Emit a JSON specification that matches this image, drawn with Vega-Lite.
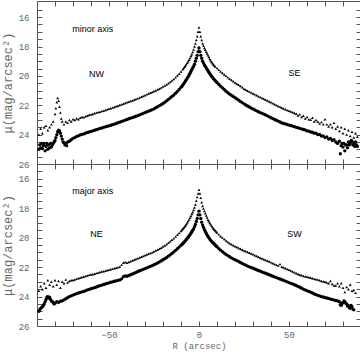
{
"$schema":"https://vega.github.io/schema/vega-lite/v6.json",
"padding":{"left":0,"top":0,"right":3,"bottom":0},
"spacing":0,
"bounds":"flush",
"datasets":{
"minU":[{"r":-89,"m":24.0},{"r":-88,"m":23.6},{"r":-87,"m":23.9},{"r":-86,"m":23.5},{"r":-85,"m":23.4},{"r":-84,"m":23.7},{"r":-83,"m":23.5},{"r":-82,"m":23.3},{"r":-81,"m":23.1},{"r":-80,"m":22.6},{"r":-79.5,"m":22.2},{"r":-79,"m":21.8},{"r":-78.5,"m":21.5},{"r":-78,"m":21.7},{"r":-77.5,"m":22.1},{"r":-77,"m":22.5},{"r":-76.5,"m":22.9},{"r":-76,"m":23.1},{"r":-75,"m":23.3},{"r":-74,"m":23.1},{"r":-73,"m":23.2},{"r":-72,"m":23.0},{"r":-71,"m":23.1},{"r":-70,"m":22.95},{"r":-69,"m":23.0},{"r":-68,"m":22.9},{"r":-67,"m":22.95},{"r":-66,"m":22.85},{"r":-65,"m":22.8},{"r":-64,"m":22.82},{"r":-63,"m":22.75},{"r":-62,"m":22.72},{"r":-61,"m":22.65},{"r":-60,"m":22.63},{"r":-59,"m":22.6},{"r":-58,"m":22.55},{"r":-57,"m":22.5},{"r":-56,"m":22.48},{"r":-55,"m":22.45},{"r":-54,"m":22.4},{"r":-53,"m":22.37},{"r":-52,"m":22.32},{"r":-51,"m":22.28},{"r":-50,"m":22.24},{"r":-49,"m":22.2},{"r":-48,"m":22.16},{"r":-47,"m":22.12},{"r":-46,"m":22.07},{"r":-45,"m":22.03},{"r":-44,"m":21.98},{"r":-43,"m":21.94},{"r":-42,"m":21.9},{"r":-41,"m":21.85},{"r":-40,"m":21.8},{"r":-39,"m":21.76},{"r":-38,"m":21.71},{"r":-37,"m":21.67},{"r":-36,"m":21.62},{"r":-35,"m":21.58},{"r":-34,"m":21.53},{"r":-33,"m":21.48},{"r":-32,"m":21.42},{"r":-31,"m":21.37},{"r":-30,"m":21.32},{"r":-29,"m":21.26},{"r":-28,"m":21.2},{"r":-27,"m":21.15},{"r":-26,"m":21.1},{"r":-25,"m":21.05},{"r":-24,"m":20.99},{"r":-23,"m":20.93},{"r":-22,"m":20.87},{"r":-21,"m":20.8},{"r":-20,"m":20.73},{"r":-19,"m":20.65},{"r":-18,"m":20.58},{"r":-17,"m":20.5},{"r":-16,"m":20.41},{"r":-15,"m":20.32},{"r":-14,"m":20.22},{"r":-13,"m":20.1},{"r":-12,"m":19.98},{"r":-11,"m":19.85},{"r":-10,"m":19.7},{"r":-9,"m":19.55},{"r":-8.5,"m":19.47},{"r":-8,"m":19.38},{"r":-7.5,"m":19.29},{"r":-7,"m":19.2},{"r":-6.5,"m":19.1},{"r":-6,"m":19.0},{"r":-5.5,"m":18.9},{"r":-5,"m":18.78},{"r":-4.5,"m":18.65},{"r":-4,"m":18.52},{"r":-3.5,"m":18.37},{"r":-3,"m":18.2},{"r":-2.5,"m":18.0},{"r":-2,"m":17.8},{"r":-1.5,"m":17.55},{"r":-1,"m":17.3},{"r":-0.5,"m":17.0},{"r":0,"m":16.7},
{"r":0.5,"m":17.0},{"r":1,"m":17.3},{"r":1.5,"m":17.55},{"r":2,"m":17.8},{"r":2.5,"m":17.95},{"r":3,"m":18.1},{"r":3.5,"m":18.22},{"r":4,"m":18.35},{"r":4.5,"m":18.47},{"r":5,"m":18.6},{"r":5.5,"m":18.72},{"r":6,"m":18.85},{"r":6.5,"m":18.95},{"r":7,"m":19.05},{"r":7.5,"m":19.14},{"r":8,"m":19.22},{"r":8.5,"m":19.29},{"r":9,"m":19.36},{"r":10,"m":19.47},{"r":11,"m":19.59},{"r":12,"m":19.7},{"r":13,"m":19.8},{"r":14,"m":19.9},{"r":15,"m":20.0},{"r":16,"m":20.1},{"r":17,"m":20.19},{"r":18,"m":20.28},{"r":19,"m":20.37},{"r":20,"m":20.45},{"r":21,"m":20.53},{"r":22,"m":20.6},{"r":23,"m":20.69},{"r":24,"m":20.78},{"r":25,"m":20.87},{"r":26,"m":20.95},{"r":27,"m":21.01},{"r":28,"m":21.07},{"r":29,"m":21.14},{"r":30,"m":21.2},{"r":31,"m":21.26},{"r":32,"m":21.32},{"r":33,"m":21.38},{"r":34,"m":21.44},{"r":35,"m":21.5},{"r":36,"m":21.55},{"r":37,"m":21.62},{"r":38,"m":21.68},{"r":39,"m":21.74},{"r":40,"m":21.8},{"r":41,"m":21.87},{"r":42,"m":21.93},{"r":43,"m":21.99},{"r":44,"m":22.05},{"r":45,"m":22.11},{"r":46,"m":22.17},{"r":47,"m":22.22},{"r":48,"m":22.27},{"r":49,"m":22.33},{"r":50,"m":22.38},{"r":51,"m":22.43},{"r":52,"m":22.48},{"r":53,"m":22.53},{"r":54,"m":22.58},{"r":55,"m":22.7},{"r":56,"m":22.62},{"r":57,"m":22.8},{"r":58,"m":22.72},{"r":59,"m":22.9},{"r":60,"m":22.8},{"r":61,"m":22.95},{"r":62,"m":22.98},{"r":63,"m":22.85},{"r":64,"m":23.1},{"r":65,"m":23.0},{"r":66,"m":23.12},{"r":67,"m":23.25},{"r":68,"m":23.15},{"r":69,"m":23.3},{"r":70,"m":22.95},{"r":71,"m":23.3},{"r":72,"m":23.45},{"r":73,"m":23.3},{"r":74,"m":23.5},{"r":75,"m":23.2},{"r":76,"m":23.6},{"r":77,"m":23.45},{"r":78,"m":23.75},{"r":79,"m":23.5},{"r":80,"m":23.9},{"r":81,"m":23.6},{"r":82,"m":24.0},{"r":83,"m":23.7},{"r":84,"m":24.1},{"r":85,"m":23.8},{"r":86,"m":24.2},{"r":87,"m":23.9},{"r":88,"m":24.15}],
"minL":[{"r":-89,"m":25.0},{"r":-88.5,"m":24.7},{"r":-88,"m":24.9},{"r":-87.5,"m":24.6},{"r":-87,"m":24.95},{"r":-86.5,"m":24.75},{"r":-86,"m":24.6},{"r":-85.5,"m":25.1},{"r":-85,"m":24.8},{"r":-84.5,"m":24.6},{"r":-84,"m":25.0},{"r":-83.5,"m":24.7},{"r":-83,"m":24.9},{"r":-82.5,"m":24.6},{"r":-82,"m":24.85},{"r":-81.5,"m":24.7},{"r":-81,"m":24.6},{"r":-80.5,"m":24.5},{"r":-80,"m":24.4},{"r":-79.5,"m":24.2},{"r":-79,"m":24.0},{"r":-78.5,"m":23.8},{"r":-78,"m":23.7},{"r":-77.5,"m":23.75},{"r":-77,"m":23.9},{"r":-76.5,"m":24.1},{"r":-76,"m":24.3},{"r":-75.5,"m":24.5},{"r":-75,"m":24.55},{"r":-74.5,"m":24.7},{"r":-74,"m":24.6},{"r":-73.5,"m":24.75},{"r":-73,"m":24.5},{"r":-72,"m":24.45},{"r":-71,"m":24.35},{"r":-70,"m":24.25},{"r":-69,"m":24.2},{"r":-68,"m":24.12},{"r":-67,"m":24.08},{"r":-66,"m":24.02},{"r":-65,"m":23.98},{"r":-64,"m":23.95},{"r":-63,"m":23.9},{"r":-62,"m":23.85},{"r":-61,"m":23.82},{"r":-60,"m":23.78},{"r":-59,"m":23.74},{"r":-58,"m":23.7},{"r":-57,"m":23.66},{"r":-56,"m":23.62},{"r":-55,"m":23.58},{"r":-54,"m":23.55},{"r":-53,"m":23.5},{"r":-52,"m":23.47},{"r":-51,"m":23.43},{"r":-50,"m":23.4},{"r":-49,"m":23.36},{"r":-48,"m":23.32},{"r":-47,"m":23.28},{"r":-46,"m":23.24},{"r":-45,"m":23.19},{"r":-44,"m":23.15},{"r":-43,"m":23.1},{"r":-42,"m":23.06},{"r":-41,"m":23.01},{"r":-40,"m":22.97},{"r":-39,"m":22.92},{"r":-38,"m":22.88},{"r":-37,"m":22.84},{"r":-36,"m":22.8},{"r":-35,"m":22.75},{"r":-34,"m":22.7},{"r":-33,"m":22.65},{"r":-32,"m":22.6},{"r":-31,"m":22.55},{"r":-30,"m":22.5},{"r":-29,"m":22.45},{"r":-28,"m":22.4},{"r":-27,"m":22.35},{"r":-26,"m":22.3},{"r":-25,"m":22.24},{"r":-24,"m":22.17},{"r":-23,"m":22.1},{"r":-22,"m":22.03},{"r":-21,"m":21.96},{"r":-20,"m":21.88},{"r":-19,"m":21.79},{"r":-18,"m":21.7},{"r":-17,"m":21.6},{"r":-16,"m":21.5},{"r":-15,"m":21.4},{"r":-14,"m":21.3},{"r":-13,"m":21.18},{"r":-12,"m":21.05},{"r":-11,"m":20.92},{"r":-10,"m":20.78},{"r":-9.5,"m":20.7},{"r":-9,"m":20.62},{"r":-8.5,"m":20.54},{"r":-8,"m":20.45},{"r":-7.5,"m":20.35},{"r":-7,"m":20.25},{"r":-6.5,"m":20.15},{"r":-6,"m":20.05},{"r":-5.5,"m":19.94},{"r":-5,"m":19.82},{"r":-4.5,"m":19.7},{"r":-4,"m":19.57},{"r":-3.5,"m":19.46},{"r":-3,"m":19.35},{"r":-2.5,"m":19.2},{"r":-2,"m":19.0},{"r":-1.5,"m":18.8},{"r":-1,"m":18.6},{"r":-0.5,"m":18.35},{"r":0,"m":18.1},
{"r":0.5,"m":18.35},{"r":1,"m":18.6},{"r":1.5,"m":18.8},{"r":2,"m":19.0},{"r":2.5,"m":19.13},{"r":3,"m":19.25},{"r":3.5,"m":19.35},{"r":4,"m":19.45},{"r":4.5,"m":19.55},{"r":5,"m":19.65},{"r":5.5,"m":19.75},{"r":6,"m":19.85},{"r":6.5,"m":19.94},{"r":7,"m":20.02},{"r":7.5,"m":20.1},{"r":8,"m":20.18},{"r":8.5,"m":20.25},{"r":9,"m":20.32},{"r":9.5,"m":20.39},{"r":10,"m":20.45},{"r":11,"m":20.58},{"r":12,"m":20.7},{"r":13,"m":20.81},{"r":14,"m":20.92},{"r":15,"m":21.04},{"r":16,"m":21.15},{"r":17,"m":21.24},{"r":18,"m":21.32},{"r":19,"m":21.4},{"r":20,"m":21.48},{"r":21,"m":21.57},{"r":22,"m":21.65},{"r":23,"m":21.74},{"r":24,"m":21.82},{"r":25,"m":21.9},{"r":26,"m":21.98},{"r":27,"m":22.05},{"r":28,"m":22.12},{"r":29,"m":22.19},{"r":30,"m":22.25},{"r":31,"m":22.32},{"r":32,"m":22.38},{"r":33,"m":22.44},{"r":34,"m":22.5},{"r":35,"m":22.55},{"r":36,"m":22.6},{"r":37,"m":22.66},{"r":38,"m":22.72},{"r":39,"m":22.79},{"r":40,"m":22.85},{"r":41,"m":22.91},{"r":42,"m":22.97},{"r":43,"m":23.02},{"r":44,"m":23.08},{"r":45,"m":23.14},{"r":46,"m":23.2},{"r":47,"m":23.24},{"r":48,"m":23.27},{"r":49,"m":23.31},{"r":50,"m":23.35},{"r":51,"m":23.38},{"r":52,"m":23.42},{"r":53,"m":23.46},{"r":54,"m":23.5},{"r":55,"m":23.53},{"r":56,"m":23.57},{"r":57,"m":23.61},{"r":58,"m":23.65},{"r":59,"m":23.68},{"r":60,"m":23.75},{"r":61,"m":23.76},{"r":62,"m":23.82},{"r":63,"m":23.84},{"r":64,"m":23.9},{"r":65,"m":23.9},{"r":66,"m":24.0},{"r":67,"m":23.98},{"r":68,"m":24.1},{"r":69,"m":24.08},{"r":70,"m":24.2},{"r":71,"m":24.15},{"r":72,"m":24.3},{"r":73,"m":24.25},{"r":74,"m":24.4},{"r":75,"m":24.35},{"r":76,"m":24.5},{"r":77,"m":24.6},{"r":78,"m":24.45},{"r":78.5,"m":25.3},{"r":79,"m":24.75},{"r":79.5,"m":24.6},{"r":80,"m":24.85},{"r":80.5,"m":24.6},{"r":81,"m":25.1},{"r":81.5,"m":24.7},{"r":82,"m":24.7},{"r":82.5,"m":24.9},{"r":83,"m":24.5},{"r":83.5,"m":24.7},{"r":84,"m":24.6},{"r":84.5,"m":24.4},{"r":85,"m":24.45},{"r":85.5,"m":24.7},{"r":86,"m":24.6},{"r":86.5,"m":24.8},{"r":87,"m":24.5},{"r":87.5,"m":24.7},{"r":88,"m":24.8}],
"majU":[{"r":-89,"m":23.6},{"r":-88,"m":23.3},{"r":-87,"m":23.5},{"r":-86,"m":23.1},{"r":-85,"m":23.4},{"r":-84,"m":22.9},{"r":-83,"m":23.2},{"r":-82,"m":23.0},{"r":-81,"m":23.3},{"r":-80,"m":22.9},{"r":-79,"m":23.2},{"r":-78,"m":22.95},{"r":-77,"m":23.4},{"r":-76,"m":23.0},{"r":-75,"m":23.1},{"r":-74,"m":22.85},{"r":-73,"m":23.05},{"r":-72,"m":22.95},{"r":-71,"m":22.9},{"r":-70,"m":22.88},{"r":-69,"m":22.84},{"r":-68,"m":22.8},{"r":-67,"m":22.76},{"r":-66,"m":22.72},{"r":-65,"m":22.68},{"r":-64,"m":22.65},{"r":-63,"m":22.61},{"r":-62,"m":22.57},{"r":-61,"m":22.53},{"r":-60,"m":22.5},{"r":-59,"m":22.48},{"r":-58,"m":22.45},{"r":-57,"m":22.41},{"r":-56,"m":22.38},{"r":-55,"m":22.34},{"r":-54,"m":22.3},{"r":-53,"m":22.28},{"r":-52,"m":22.25},{"r":-51,"m":22.21},{"r":-50,"m":22.18},{"r":-49,"m":22.15},{"r":-48,"m":22.12},{"r":-47,"m":22.08},{"r":-46,"m":22.05},{"r":-45,"m":22.02},{"r":-44,"m":21.98},{"r":-43,"m":21.85},{"r":-42,"m":21.7},{"r":-41,"m":21.65},{"r":-40,"m":21.7},{"r":-39,"m":21.65},{"r":-38,"m":21.6},{"r":-37,"m":21.55},{"r":-36,"m":21.5},{"r":-35,"m":21.45},{"r":-34,"m":21.4},{"r":-33,"m":21.35},{"r":-32,"m":21.3},{"r":-31,"m":21.25},{"r":-30,"m":21.2},{"r":-29,"m":21.15},{"r":-28,"m":21.1},{"r":-27,"m":21.05},{"r":-26,"m":21.0},{"r":-25,"m":20.94},{"r":-24,"m":20.88},{"r":-23,"m":20.82},{"r":-22,"m":20.75},{"r":-21,"m":20.68},{"r":-20,"m":20.6},{"r":-19,"m":20.53},{"r":-18,"m":20.45},{"r":-17,"m":20.35},{"r":-16,"m":20.25},{"r":-15,"m":20.15},{"r":-14,"m":20.05},{"r":-13,"m":19.93},{"r":-12,"m":19.8},{"r":-11,"m":19.68},{"r":-10,"m":19.55},{"r":-9.5,"m":19.48},{"r":-9,"m":19.4},{"r":-8.5,"m":19.33},{"r":-8,"m":19.25},{"r":-7.5,"m":19.17},{"r":-7,"m":19.08},{"r":-6.5,"m":18.98},{"r":-6,"m":18.88},{"r":-5.5,"m":18.77},{"r":-5,"m":18.65},{"r":-4.5,"m":18.53},{"r":-4,"m":18.4},{"r":-3.5,"m":18.27},{"r":-3,"m":18.12},{"r":-2.5,"m":17.95},{"r":-2,"m":17.75},{"r":-1.5,"m":17.5},{"r":-1,"m":17.25},{"r":-0.5,"m":17.0},{"r":0,"m":16.75},
{"r":0.5,"m":17.0},{"r":1,"m":17.3},{"r":1.5,"m":17.6},{"r":2,"m":17.85},{"r":2.5,"m":18.03},{"r":3,"m":18.2},{"r":3.5,"m":18.35},{"r":4,"m":18.5},{"r":4.5,"m":18.64},{"r":5,"m":18.78},{"r":5.5,"m":18.89},{"r":6,"m":19.0},{"r":6.5,"m":19.1},{"r":7,"m":19.2},{"r":7.5,"m":19.29},{"r":8,"m":19.38},{"r":8.5,"m":19.45},{"r":9,"m":19.52},{"r":9.5,"m":19.59},{"r":10,"m":19.65},{"r":11,"m":19.78},{"r":12,"m":19.9},{"r":13,"m":20.0},{"r":14,"m":20.1},{"r":15,"m":20.2},{"r":16,"m":20.3},{"r":17,"m":20.38},{"r":18,"m":20.45},{"r":19,"m":20.52},{"r":20,"m":20.58},{"r":21,"m":20.64},{"r":22,"m":20.7},{"r":23,"m":20.76},{"r":24,"m":20.82},{"r":25,"m":20.88},{"r":26,"m":20.93},{"r":27,"m":20.98},{"r":28,"m":21.03},{"r":29,"m":21.08},{"r":30,"m":21.13},{"r":31,"m":21.19},{"r":32,"m":21.25},{"r":33,"m":21.3},{"r":34,"m":21.36},{"r":35,"m":21.42},{"r":36,"m":21.47},{"r":37,"m":21.52},{"r":38,"m":21.57},{"r":39,"m":21.62},{"r":40,"m":21.68},{"r":41,"m":21.74},{"r":42,"m":21.8},{"r":43,"m":21.85},{"r":44,"m":21.9},{"r":45,"m":21.8},{"r":46,"m":21.98},{"r":47,"m":22.03},{"r":48,"m":22.08},{"r":49,"m":22.13},{"r":50,"m":22.18},{"r":51,"m":22.24},{"r":52,"m":22.3},{"r":53,"m":22.36},{"r":54,"m":22.42},{"r":55,"m":22.47},{"r":56,"m":22.52},{"r":57,"m":22.56},{"r":58,"m":22.6},{"r":59,"m":22.63},{"r":60,"m":22.66},{"r":61,"m":22.69},{"r":62,"m":22.72},{"r":63,"m":22.76},{"r":64,"m":22.8},{"r":65,"m":22.82},{"r":66,"m":22.85},{"r":67,"m":22.9},{"r":68,"m":22.95},{"r":69,"m":22.97},{"r":70,"m":23.0},{"r":71,"m":23.05},{"r":72,"m":23.1},{"r":73,"m":22.95},{"r":74,"m":23.15},{"r":75,"m":23.25},{"r":76,"m":23.25},{"r":77,"m":23.1},{"r":78,"m":23.3},{"r":79,"m":23.1},{"r":80,"m":23.4},{"r":81,"m":23.7},{"r":82,"m":23.35},{"r":83,"m":23.5},{"r":84,"m":23.2},{"r":85,"m":23.6},{"r":86,"m":23.55},{"r":87,"m":23.75}],
"majL":[{"r":-89,"m":25.0},{"r":-88.5,"m":24.9},{"r":-88,"m":24.8},{"r":-87.5,"m":24.75},{"r":-87,"m":24.7},{"r":-86.5,"m":24.6},{"r":-86,"m":24.5},{"r":-85.5,"m":24.35},{"r":-85,"m":24.2},{"r":-84.5,"m":24.05},{"r":-84,"m":24.0},{"r":-83.5,"m":24.1},{"r":-83,"m":24.05},{"r":-82.5,"m":24.2},{"r":-82,"m":24.3},{"r":-81.5,"m":24.35},{"r":-81,"m":24.4},{"r":-80.5,"m":24.5},{"r":-80,"m":24.45},{"r":-79,"m":24.35},{"r":-78,"m":24.4},{"r":-77,"m":24.32},{"r":-76,"m":24.3},{"r":-75,"m":24.22},{"r":-74,"m":24.15},{"r":-73,"m":24.08},{"r":-72,"m":24.0},{"r":-71,"m":23.95},{"r":-70,"m":23.9},{"r":-69,"m":23.85},{"r":-68,"m":23.8},{"r":-67,"m":23.76},{"r":-66,"m":23.72},{"r":-65,"m":23.68},{"r":-64,"m":23.65},{"r":-63,"m":23.6},{"r":-62,"m":23.55},{"r":-61,"m":23.51},{"r":-60,"m":23.47},{"r":-59,"m":23.43},{"r":-58,"m":23.4},{"r":-57,"m":23.35},{"r":-56,"m":23.3},{"r":-55,"m":23.26},{"r":-54,"m":23.22},{"r":-53,"m":23.18},{"r":-52,"m":23.15},{"r":-51,"m":23.11},{"r":-50,"m":23.07},{"r":-49,"m":23.03},{"r":-48,"m":23.0},{"r":-47,"m":22.96},{"r":-46,"m":22.93},{"r":-45,"m":22.9},{"r":-44,"m":22.87},{"r":-43,"m":22.8},{"r":-42,"m":22.65},{"r":-41,"m":22.6},{"r":-40,"m":22.62},{"r":-39,"m":22.57},{"r":-38,"m":22.52},{"r":-37,"m":22.47},{"r":-36,"m":22.42},{"r":-35,"m":22.36},{"r":-34,"m":22.3},{"r":-33,"m":22.25},{"r":-32,"m":22.2},{"r":-31,"m":22.15},{"r":-30,"m":22.1},{"r":-29,"m":22.05},{"r":-28,"m":22.0},{"r":-27,"m":21.95},{"r":-26,"m":21.9},{"r":-25,"m":21.84},{"r":-24,"m":21.78},{"r":-23,"m":21.72},{"r":-22,"m":21.65},{"r":-21,"m":21.58},{"r":-20,"m":21.5},{"r":-19,"m":21.43},{"r":-18,"m":21.35},{"r":-17,"m":21.26},{"r":-16,"m":21.17},{"r":-15,"m":21.07},{"r":-14,"m":20.97},{"r":-13,"m":20.86},{"r":-12,"m":20.75},{"r":-11,"m":20.64},{"r":-10,"m":20.52},{"r":-9.5,"m":20.46},{"r":-9,"m":20.4},{"r":-8.5,"m":20.34},{"r":-8,"m":20.27},{"r":-7.5,"m":20.2},{"r":-7,"m":20.12},{"r":-6.5,"m":20.05},{"r":-6,"m":19.97},{"r":-5.5,"m":19.89},{"r":-5,"m":19.8},{"r":-4.5,"m":19.7},{"r":-4,"m":19.6},{"r":-3.5,"m":19.5},{"r":-3,"m":19.4},{"r":-2.5,"m":19.25},{"r":-2,"m":19.1},{"r":-1.5,"m":18.9},{"r":-1,"m":18.7},{"r":-0.5,"m":18.45},{"r":0,"m":18.2},
{"r":0.5,"m":18.45},{"r":1,"m":18.7},{"r":1.5,"m":18.95},{"r":2,"m":19.15},{"r":2.5,"m":19.3},{"r":3,"m":19.45},{"r":3.5,"m":19.58},{"r":4,"m":19.7},{"r":4.5,"m":19.81},{"r":5,"m":19.92},{"r":5.5,"m":20.01},{"r":6,"m":20.1},{"r":6.5,"m":20.18},{"r":7,"m":20.25},{"r":7.5,"m":20.32},{"r":8,"m":20.38},{"r":8.5,"m":20.44},{"r":9,"m":20.5},{"r":9.5,"m":20.56},{"r":10,"m":20.62},{"r":11,"m":20.74},{"r":12,"m":20.85},{"r":13,"m":20.95},{"r":14,"m":21.05},{"r":15,"m":21.14},{"r":16,"m":21.22},{"r":17,"m":21.3},{"r":18,"m":21.37},{"r":19,"m":21.44},{"r":20,"m":21.5},{"r":21,"m":21.56},{"r":22,"m":21.62},{"r":23,"m":21.69},{"r":24,"m":21.75},{"r":25,"m":21.81},{"r":26,"m":21.87},{"r":27,"m":21.93},{"r":28,"m":21.98},{"r":29,"m":22.03},{"r":30,"m":22.08},{"r":31,"m":22.13},{"r":32,"m":22.18},{"r":33,"m":22.23},{"r":34,"m":22.28},{"r":35,"m":22.33},{"r":36,"m":22.38},{"r":37,"m":22.42},{"r":38,"m":22.47},{"r":39,"m":22.52},{"r":40,"m":22.57},{"r":41,"m":22.62},{"r":42,"m":22.67},{"r":43,"m":22.71},{"r":44,"m":22.76},{"r":45,"m":22.81},{"r":46,"m":22.86},{"r":47,"m":22.9},{"r":48,"m":22.95},{"r":49,"m":23.0},{"r":50,"m":23.05},{"r":51,"m":23.1},{"r":52,"m":23.14},{"r":53,"m":23.2},{"r":54,"m":23.25},{"r":55,"m":23.31},{"r":56,"m":23.37},{"r":57,"m":23.43},{"r":58,"m":23.5},{"r":59,"m":23.55},{"r":60,"m":23.6},{"r":61,"m":23.65},{"r":62,"m":23.7},{"r":63,"m":23.76},{"r":64,"m":23.82},{"r":65,"m":23.87},{"r":66,"m":23.92},{"r":67,"m":23.96},{"r":68,"m":24.0},{"r":69,"m":24.03},{"r":70,"m":24.07},{"r":71,"m":24.1},{"r":72,"m":24.13},{"r":73,"m":24.17},{"r":74,"m":24.2},{"r":75,"m":24.24},{"r":76,"m":24.27},{"r":77,"m":24.3},{"r":78,"m":24.35},{"r":78.5,"m":24.55},{"r":79,"m":24.6},{"r":79.5,"m":24.45},{"r":80,"m":24.42},{"r":80.5,"m":24.3},{"r":81,"m":24.35},{"r":81.5,"m":24.45},{"r":82,"m":24.5},{"r":82.5,"m":24.65},{"r":83,"m":24.6},{"r":83.5,"m":24.75},{"r":84,"m":24.8},{"r":84.5,"m":24.6},{"r":85,"m":24.7},{"r":85.5,"m":24.85},{"r":86,"m":24.9}],
"minT":[{"t":"minor axis","r":-59,"m":16.8},{"t":"NW","r":-57,"m":19.9},{"t":"SE","r":53,"m":19.8}],
"majT":[{"t":"major axis","r":-59,"m":16.8},{"t":"NE","r":-57,"m":19.75},{"t":"SW","r":53,"m":19.75}]
},
"vconcat":[
{"width":324,"height":163,
"layer":[
{"data":{"name":"minU"},"mark":{"type":"point","shape":"triangle-up","filled":true,"size":8,"color":"black","opacity":1},
"encoding":{"x":{"field":"r","type":"quantitative","scale":{"domain":[-90,90],"nice":false,"zero":false},"axis":{"orient":"bottom","values":[-80,-70,-60,-50,-40,-30,-20,-10,0,10,20,30,40,50,60,70,80],"labels":false,"title":null,"tickSize":-5}},
"y":{"field":"m","type":"quantitative","scale":{"domain":[14.9,26],"reverse":true,"nice":false,"zero":false},"axis":{"orient":"left","values":[15.5,16,16.5,17,17.5,18,18.5,19,19.5,20,20.5,21,21.5,22,22.5,23,23.5,24,24.5,25,25.5,26],"labelExpr":"datum.value % 2 === 0 ? format(datum.value, 'd') : ''","title":"μ(mag/arcsec²)","tickSize":-5,"labelPadding":13}}}},
{"data":{"name":"minL"},"mark":{"type":"point","shape":"circle","filled":true,"size":11,"color":"black","opacity":1},
"encoding":{"x":{"field":"r","type":"quantitative","axis":{"orient":"top","values":[-80,-70,-60,-50,-40,-30,-20,-10,0,10,20,30,40,50,60,70,80],"labels":false,"title":null,"tickSize":-5}},
"y":{"field":"m","type":"quantitative","axis":{"orient":"right","values":[15.5,16,16.5,17,17.5,18,18.5,19,19.5,20,20.5,21,21.5,22,22.5,23,23.5,24,24.5,25,25.5,26],"labels":false,"title":null,"tickSize":-5}}}},
{"data":{"name":"minT"},"mark":{"type":"text","font":"Liberation Sans","fontSize":9,"color":"black"},
"encoding":{"x":{"field":"r","type":"quantitative","axis":null},"y":{"field":"m","type":"quantitative","axis":null},"text":{"field":"t"}}}
]},
{"width":324,"height":162,
"layer":[
{"data":{"name":"majU"},"mark":{"type":"point","shape":"triangle-up","filled":true,"size":8,"color":"black","opacity":1},
"encoding":{"x":{"field":"r","type":"quantitative","scale":{"domain":[-90,90],"nice":false,"zero":false},"axis":{"orient":"bottom","values":[-80,-70,-60,-50,-40,-30,-20,-10,0,10,20,30,40,50,60,70,80],"labelExpr":"datum.value % 50 === 0 ? datum.label : ''","title":"R (arcsec)","tickSize":-5,"labelPadding":9,"titlePadding":2}},
"y":{"field":"m","type":"quantitative","scale":{"domain":[15,26],"reverse":true,"nice":false,"zero":false},"axis":{"orient":"left","values":[15.5,16,16.5,17,17.5,18,18.5,19,19.5,20,20.5,21,21.5,22,22.5,23,23.5,24,24.5,25,25.5,26],"labelExpr":"datum.value % 2 === 0 ? format(datum.value, 'd') : ''","title":"μ(mag/arcsec²)","tickSize":-5,"labelPadding":13}}}},
{"data":{"name":"majL"},"mark":{"type":"point","shape":"circle","filled":true,"size":11,"color":"black","opacity":1},
"encoding":{"x":{"field":"r","type":"quantitative","axis":{"orient":"top","values":[-80,-70,-60,-50,-40,-30,-20,-10,0,10,20,30,40,50,60,70,80],"labels":false,"title":null,"tickSize":-5}},
"y":{"field":"m","type":"quantitative","axis":{"orient":"right","values":[15.5,16,16.5,17,17.5,18,18.5,19,19.5,20,20.5,21,21.5,22,22.5,23,23.5,24,24.5,25,25.5,26],"labels":false,"title":null,"tickSize":-5}}}},
{"data":{"name":"majT"},"mark":{"type":"text","font":"Liberation Sans","fontSize":9,"color":"black"},
"encoding":{"x":{"field":"r","type":"quantitative","axis":null},"y":{"field":"m","type":"quantitative","axis":null},"text":{"field":"t"}}}
]}
],
"config":{
"view":{"stroke":"#555","strokeWidth":1},
"axis":{"grid":false,"labelFont":"Liberation Mono","titleFont":"Liberation Mono","labelFontSize":9,"titleFontSize":12,"titleFontWeight":"normal","labelColor":"#666","titleColor":"#666","tickColor":"#555","domainColor":"#555","titlePadding":4},
"axisX":{"titleFontSize":9}
}
}
